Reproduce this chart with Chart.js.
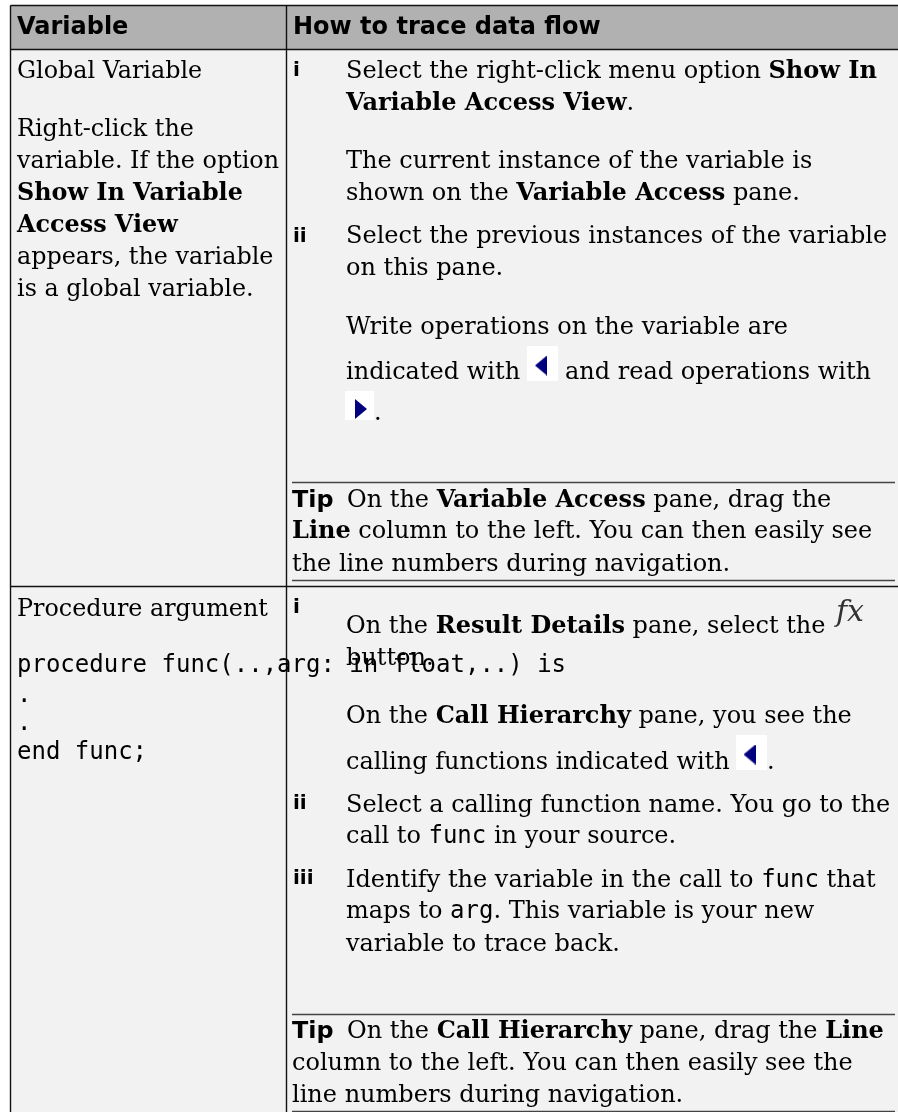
<!DOCTYPE html>
<html>
<head>
<meta charset="utf-8">
<title>How to trace data flow</title>
<script src="https://cdn.jsdelivr.net/npm/chart.js@4"></script>
<style>
html, body { margin: 0; padding: 0; background: #fff; }
canvas { display: block; }
</style>
</head>
<body>
<canvas id="tableChart" width="898" height="1112"></canvas>
<script>
// text of the table; **bold** and `code` mark the runs
var headerLabels = ['Variable', 'How to trace data flow'];
var globalCell = ['Global Variable', 'Right-click the', 'variable. If the option', '**Show In Variable**', '**Access View**', 'appears, the variable', 'is a global variable.'];
var procedureCell = ['Procedure argument'];
var procedureCode = ['procedure func(..,arg: in float,..) is', '.', '.', 'end func;'];
var stepLabels = ['i', 'ii', 'i', 'ii', 'iii'];
var globalSteps = [
    'Select the right-click menu option **Show In**',
    '**Variable Access View**.',
    'The current instance of the variable is',
    'shown on the **Variable Access** pane.',
    'Select the previous instances of the variable',
    'on this pane.',
    'Write operations on the variable are',
    'indicated with'
];
var procedureSteps = [
    'On the **Result Details** pane, select the',
    'button.',
    'On the **Call Hierarchy** pane, you see the',
    'calling functions indicated with',
    'Select a calling function name. You go to the',
    'call to `func` in your source.',
    'Identify the variable in the call to `func` that',
    'maps to `arg`. This variable is your new',
    'variable to trace back.'
];
var afterArrowText = ['and read operations with', '.', '.'];
var tipLabel = 'Tip';
var globalTip = ['On the **Variable Access** pane, drag the', '**Line** column to the left. You can then easily see', 'the line numbers during navigation.'];
var procedureTip = ['On the **Call Hierarchy** pane, drag the **Line**', 'column to the left. You can then easily see the', 'line numbers during navigation.'];

// layout, in page pixels (the axes run 1:1 over the page)
var pageWidth = 898;
var pageHeight = 1112;
var columnEdges = [10.5, 286.5];
var rowEdges = [5.5, 49.5, 586.5];
var tipRuleYs = [482.5, 580.5, 1014.5, 1111.5];
var tipRuleLeft = 292;
var tipRuleRight = 895;
var headerX = [17, 293];
var leftX = 17;
var stepX = 293;
var bodyX = 346;
var tipX = 292;
var tipTextX = 347;
var headerY = 34;
var globalCellY = [78, 136, 168, 200, 232, 264, 296];
var procedureCellY = [616];
var procedureCodeY = [672, 702, 730, 759];
var stepY = [76, 242, 613, 809, 884];
var globalStepsY = [78, 110, 168, 200, 243, 275, 334, 379];
var procedureStepsY = [633, 665, 723, 769, 812, 843, 887, 918, 951];
var globalTipY = [507, 538, 571];
var procedureTipY = [1038, 1070, 1102];
var afterArrowX = [565, 374, 767];
var afterArrowY = [379, 420, 769];
var arrowBoxes = [[527, 558, 346, 381], [345, 374, 391, 420], [736, 767, 735, 770]];
var leftArrows = [[541, 365.5], [749.5, 754.5]];
var rightArrows = [[361, 409]];

var serifFont = '"DejaVu Serif"';
var sansFont = '"DejaVu Sans"';
var monoFont = '"DejaVu Sans Mono"';
var leftSize = 23.85;
var rightSize = 24;

function hLine(y, x0, x1, color, width) {
    return { data: [{ x: x0, y: y }, { x: x1, y: y }], borderColor: color, borderWidth: width, showLine: true, pointRadius: 0 };
}

function vLine(x, y0, y1) {
    return { data: [{ x: x, y: y0 }, { x: x, y: y1 }], borderColor: '#111', borderWidth: 1.4, showLine: true, pointRadius: 0 };
}

// band between two y values, filled down to the next dataset
function band(x0, x1, y0, y1, color) {
    return [
        { data: [{ x: x0, y: y0 }, { x: x1, y: y0 }], showLine: true, pointRadius: 0, borderWidth: 0, backgroundColor: color, fill: '+1' },
        { data: [{ x: x0, y: y1 }, { x: x1, y: y1 }], showLine: true, pointRadius: 0, borderWidth: 0, fill: false }
    ];
}

// narrow blue arrow used as a point image
function arrowImage(pointsLeft) {
    var c = document.createElement('canvas');
    c.width = 12;
    c.height = 20;
    var g = c.getContext('2d');
    g.fillStyle = '#00007f';
    g.beginPath();
    if (pointsLeft) {
        g.moveTo(0, 10); g.lineTo(12, 0); g.lineTo(12, 20);
    } else {
        g.moveTo(12, 10); g.lineTo(0, 0); g.lineTo(0, 20);
    }
    g.closePath();
    g.fill();
    return c;
}

function buildDatasets() {
    var sets = [];
    sets = sets.concat(band(columnEdges[0], pageWidth, rowEdges[0], rowEdges[1], '#b1b1b1'));
    sets = sets.concat(band(columnEdges[0], pageWidth, rowEdges[1], pageHeight, '#f2f2f2'));
    arrowBoxes.forEach(function (b) {
        sets = sets.concat(band(b[0], b[1], b[2], b[3], '#ffffff'));
    });
    rowEdges.forEach(function (y) {
        sets.push(hLine(y, columnEdges[0], pageWidth, '#111', 1.4));
    });
    columnEdges.forEach(function (x) {
        sets.push(vLine(x, rowEdges[0], pageHeight));
    });
    tipRuleYs.forEach(function (y) {
        sets.push(hLine(y, tipRuleLeft, tipRuleRight, '#444', 1.6));
    });
    sets.push({
        data: leftArrows.map(function (p) { return { x: p[0], y: p[1] }; }),
        pointStyle: arrowImage(true), borderWidth: 0
    });
    sets.push({
        data: rightArrows.map(function (p) { return { x: p[0], y: p[1] }; }),
        pointStyle: arrowImage(false), borderWidth: 0
    });
    // first dataset is painted last by default, we want the opposite
    sets.forEach(function (s, i) { s.order = -i; });
    return sets;
}

// split a line into its bold / code / plain runs
function parseRuns(line, size) {
    var parts = line.split(/(\*\*[^*]+\*\*|`[^`]+`)/);
    return parts.filter(function (p) { return p.length > 0; }).map(function (p) {
        if (p.indexOf('**') === 0) return { text: p.slice(2, -2), font: 'bold ' + size + 'px ' + serifFont };
        if (p.charAt(0) === '`') return { text: p.slice(1, -1), font: '24px ' + monoFont };
        return { text: p, font: size + 'px ' + serifFont };
    });
}

var tableText = {
    id: 'tableText',
    afterDatasetsDraw: function (chart) {
        var ctx = chart.ctx;
        var xs = chart.scales.x;
        var ys = chart.scales.y;

        function drawPlain(text, x, y, font) {
            ctx.font = font;
            ctx.fillText(text, xs.getPixelForValue(x), ys.getPixelForValue(y));
        }

        function drawLine(line, x, y, size) {
            var px = xs.getPixelForValue(x);
            var py = ys.getPixelForValue(y);
            parseRuns(line, size).forEach(function (run) {
                ctx.font = run.font;
                ctx.fillText(run.text, px, py);
                px += ctx.measureText(run.text).width;
            });
        }

        function drawLines(lines, x, baselines, size) {
            lines.forEach(function (line, i) {
                drawLine(line, x, baselines[i], size);
            });
        }

        function drawTip(lines, baselines) {
            drawPlain(tipLabel, tipX, baselines[0], 'bold ' + leftSize + 'px ' + sansFont);
            lines.forEach(function (line, i) {
                drawLine(line, i === 0 ? tipTextX : tipX, baselines[i], rightSize);
            });
        }

        ctx.save();
        ctx.fillStyle = '#000';
        ctx.textBaseline = 'alphabetic';
        headerLabels.forEach(function (label, i) {
            drawPlain(label, headerX[i], headerY, 'bold 24px ' + sansFont);
        });
        drawLines(globalCell, leftX, globalCellY, leftSize);
        drawLines(procedureCell, leftX, procedureCellY, leftSize);
        procedureCode.forEach(function (line, i) {
            drawPlain(line, leftX, procedureCodeY[i], '24px ' + monoFont);
        });
        stepLabels.forEach(function (label, i) {
            drawPlain(label, stepX, stepY[i], 'bold 20px ' + sansFont);
        });
        drawLines(globalSteps, bodyX, globalStepsY, rightSize);
        drawLines(procedureSteps, bodyX, procedureStepsY, rightSize);
        afterArrowText.forEach(function (t, i) {
            drawPlain(t, afterArrowX[i], afterArrowY[i], rightSize + 'px ' + serifFont);
        });
        drawTip(globalTip, globalTipY);
        drawTip(procedureTip, procedureTipY);
        ctx.fillStyle = '#333';
        drawPlain('fx', 836, 621, 'italic 30px ' + serifFont);
        ctx.restore();
    }
};

var tableChart = new Chart(document.getElementById('tableChart').getContext('2d'), {
    type: 'scatter',
    data: { datasets: buildDatasets() },
    plugins: [tableText],
    options: {
        responsive: false,
        animation: false,
        layout: { padding: 0, autoPadding: false },
        plugins: { legend: { display: false }, tooltip: { enabled: false } },
        scales: {
            x: { type: 'linear', display: false, min: 0, max: pageWidth },
            y: { type: 'linear', display: false, reverse: true, min: 0, max: pageHeight }
        }
    }
});
</script>
</body>
</html>
